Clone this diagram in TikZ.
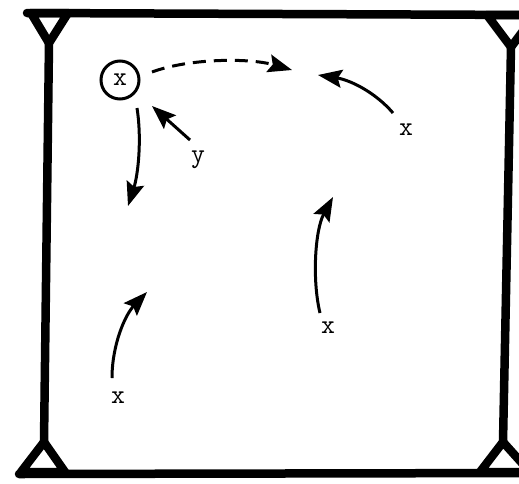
\documentclass[tikz,border=0pt]{standalone}
\usepackage{fontspec}
\usetikzlibrary{arrows.meta}
\begin{document}
\begin{tikzpicture}[x=1pt,y=-1pt,
  frame/.style={line width=8.5pt,line join=round,line cap=round},
  arr/.style={line width=3pt,-{Stealth[length=24pt,width=18pt,inset=4pt]}},
  lbl/.style={font=\ttfamily\fontsize{27}{27}\selectfont,inner sep=0pt},
  player/.style={circle,draw,line width=3pt,minimum size=38pt,inner sep=0pt,font=\ttfamily\fontsize{27}{27}\selectfont}]
\useasboundingbox (0,0) rectangle (519,483);
\fill[white] (0,0) rectangle (519,483);
% frame
\draw[frame] (27,13) -- (540,15);
\draw[frame] (19,474) -- (540,473);
\draw[frame] (31,13) -- (68,13) -- (49,43) -- cycle;
\draw[frame] (49,43) -- (44,442);
\draw[frame] (21,472) -- (65,472) -- (44,442) -- cycle;
\draw[frame] (487,15) -- (535,15) -- (511,47) -- cycle;
\draw[frame] (511,47) -- (503,442);
\draw[frame] (480,472) -- (530,472) -- (503,442) -- cycle;
% players
\node[player] (c) at (120,80) {x};
\node[lbl] (ly) at (198,160) {y};
\node[lbl] (l1) at (406,130) {x};
\node[lbl] (l2) at (328,328) {x};
\node[lbl] (l3) at (118,398) {x};
\coordinate (t0) at (152,72);
\coordinate (h0) at (292,70);
\coordinate (ty) at (190,140);
\coordinate (hy) at (152,106);
\coordinate (td) at (137,108);
\coordinate (hd) at (128,206);
\coordinate (t1) at (393,113);
\coordinate (h1) at (318,75);
\coordinate (t2) at (320,313);
\coordinate (h2) at (333,197);
\coordinate (t3) at (112,378);
\coordinate (h3) at (147,292);
\draw[arr,dash pattern=on 13pt off 8pt] (t0) .. controls (190,58) and (250,58) .. (h0);
\draw[arr] (ty) -- (hy);
\draw[arr] (td) .. controls (142,140) and (138,175) .. (hd);
\draw[arr] (t1) .. controls (375,92) and (350,80) .. (h1);
\draw[arr] (t2) .. controls (312,280) and (315,230) .. (h2);
\draw[arr] (t3) .. controls (112,345) and (125,315) .. (h3);
\end{tikzpicture}
\end{document}
